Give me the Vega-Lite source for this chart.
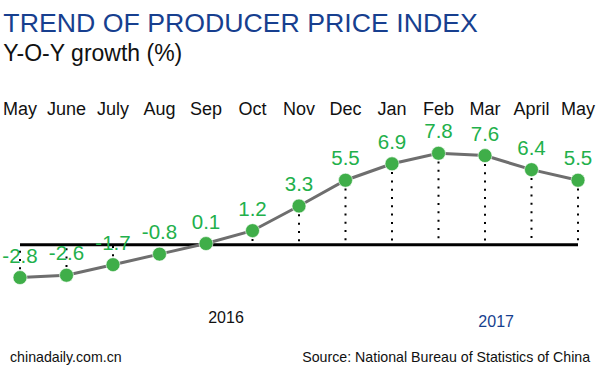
{
  "$schema": "https://vega.github.io/schema/vega-lite/v6.json",
  "autosize": {"type": "none"},
  "width": 558,
  "height": 258,
  "padding": {"left": 20, "top": 104, "right": 22, "bottom": 16},
  "background": "white",
  "config": {"view": {"stroke": null}, "font": "Liberation Sans"},
  "title": {
    "text": "TREND OF PRODUCER PRICE INDEX",
    "subtitle": "Y-O-Y growth (%)",
    "anchor": "start",
    "dx": 1,
    "offset": 35,
    "font": "Liberation Sans",
    "fontSize": 26.7,
    "fontWeight": "normal",
    "color": "#173f8f",
    "subtitleFont": "Liberation Sans",
    "subtitleFontSize": 23,
    "subtitleColor": "#111111",
    "subtitlePadding": 5
  },
  "datasets": {
    "ppi": [
      {"i": 0, "month": "May", "value": -2.8},
      {"i": 1, "month": "June", "value": -2.6},
      {"i": 2, "month": "July", "value": -1.7},
      {"i": 3, "month": "Aug", "value": -0.8},
      {"i": 4, "month": "Sep", "value": 0.1},
      {"i": 5, "month": "Oct", "value": 1.2},
      {"i": 6, "month": "Nov", "value": 3.3},
      {"i": 7, "month": "Dec", "value": 5.5},
      {"i": 8, "month": "Jan", "value": 6.9},
      {"i": 9, "month": "Feb", "value": 7.8},
      {"i": 10, "month": "Mar", "value": 7.6},
      {"i": 11, "month": "April", "value": 6.4},
      {"i": 12, "month": "May", "value": 5.5}
    ],
    "one": [{"n": 1}]
  },
  "data": {"name": "ppi"},
  "layer": [
    {
      "data": {"name": "one"},
      "mark": {"type": "rule", "color": "#000000", "strokeWidth": 3},
      "encoding": {
        "x": {"datum": 0, "type": "quantitative", "scale": {"domain": [0, 12], "nice": false, "zero": false}, "axis": null},
        "x2": {"datum": 12},
        "y": {"datum": 0, "type": "quantitative", "scale": {"domain": [-10, 12], "nice": false, "zero": false}, "axis": null}
      }
    },
    {
      "mark": {"type": "rule", "color": "#000000", "strokeWidth": 2, "strokeDash": [2, 6.3]},
      "encoding": {
        "x": {"field": "i", "type": "quantitative", "scale": {"domain": [0, 12], "nice": false, "zero": false}, "axis": null},
        "y": {"field": "value", "type": "quantitative", "scale": {"domain": [-10, 12], "nice": false, "zero": false}, "axis": null},
        "y2": {"datum": 0}
      }
    },
    {
      "mark": {"type": "line", "color": "#6e6e6e", "strokeWidth": 3},
      "encoding": {
        "x": {"field": "i", "type": "quantitative", "scale": {"domain": [0, 12], "nice": false, "zero": false}, "axis": null},
        "y": {"field": "value", "type": "quantitative", "scale": {"domain": [-10, 12], "nice": false, "zero": false}, "axis": null}
      }
    },
    {
      "mark": {"type": "point", "filled": true, "color": "#3fae49", "size": 195, "opacity": 1, "stroke": "#ffffff", "strokeWidth": 0.6},
      "encoding": {
        "x": {"field": "i", "type": "quantitative", "scale": {"domain": [0, 12], "nice": false, "zero": false}, "axis": null},
        "y": {"field": "value", "type": "quantitative", "scale": {"domain": [-10, 12], "nice": false, "zero": false}, "axis": null}
      }
    },
    {
      "mark": {"type": "text", "color": "#22b04b", "fontSize": 20.5, "baseline": "alphabetic", "dy": -15},
      "encoding": {
        "x": {"field": "i", "type": "quantitative", "scale": {"domain": [0, 12], "nice": false, "zero": false}, "axis": null},
        "y": {"field": "value", "type": "quantitative", "scale": {"domain": [-10, 12], "nice": false, "zero": false}, "axis": null},
        "text": {"field": "value", "type": "nominal"}
      }
    },
    {
      "mark": {"type": "text", "color": "#111111", "fontSize": 18, "baseline": "alphabetic"},
      "encoding": {
        "x": {"field": "i", "type": "quantitative", "scale": {"domain": [0, 12], "nice": false, "zero": false}, "axis": null},
        "y": {"datum": 11.06, "type": "quantitative", "scale": {"domain": [-10, 12], "nice": false, "zero": false}, "axis": null},
        "text": {"field": "month", "type": "nominal"}
      }
    },
    {
      "data": {"name": "one"},
      "mark": {"type": "text", "color": "#111111", "fontSize": 16, "baseline": "middle"},
      "encoding": {
        "x": {"datum": 4.43, "type": "quantitative", "scale": {"domain": [0, 12], "nice": false, "zero": false}, "axis": null},
        "y": {"datum": -6.25, "type": "quantitative", "scale": {"domain": [-10, 12], "nice": false, "zero": false}, "axis": null},
        "text": {"value": "2016"}
      }
    },
    {
      "data": {"name": "one"},
      "mark": {"type": "text", "color": "#173f8f", "fontSize": 16, "baseline": "middle"},
      "encoding": {
        "x": {"datum": 10.24, "type": "quantitative", "scale": {"domain": [0, 12], "nice": false, "zero": false}, "axis": null},
        "y": {"datum": -6.6, "type": "quantitative", "scale": {"domain": [-10, 12], "nice": false, "zero": false}, "axis": null},
        "text": {"value": "2017"}
      }
    },
    {
      "data": {"name": "one"},
      "mark": {"type": "text", "color": "#111111", "fontSize": 14.2, "baseline": "middle", "align": "left"},
      "encoding": {
        "x": {"datum": -0.215, "type": "quantitative", "scale": {"domain": [0, 12], "nice": false, "zero": false}, "axis": null},
        "y": {"datum": -9.66, "type": "quantitative", "scale": {"domain": [-10, 12], "nice": false, "zero": false}, "axis": null},
        "text": {"value": "chinadaily.com.cn"}
      }
    },
    {
      "data": {"name": "one"},
      "mark": {"type": "text", "color": "#111111", "fontSize": 14.2, "baseline": "middle", "align": "right"},
      "encoding": {
        "x": {"datum": 12.26, "type": "quantitative", "scale": {"domain": [0, 12], "nice": false, "zero": false}, "axis": null},
        "y": {"datum": -9.66, "type": "quantitative", "scale": {"domain": [-10, 12], "nice": false, "zero": false}, "axis": null},
        "text": {"value": "Source: National Bureau of Statistics of China"}
      }
    }
  ]
}
